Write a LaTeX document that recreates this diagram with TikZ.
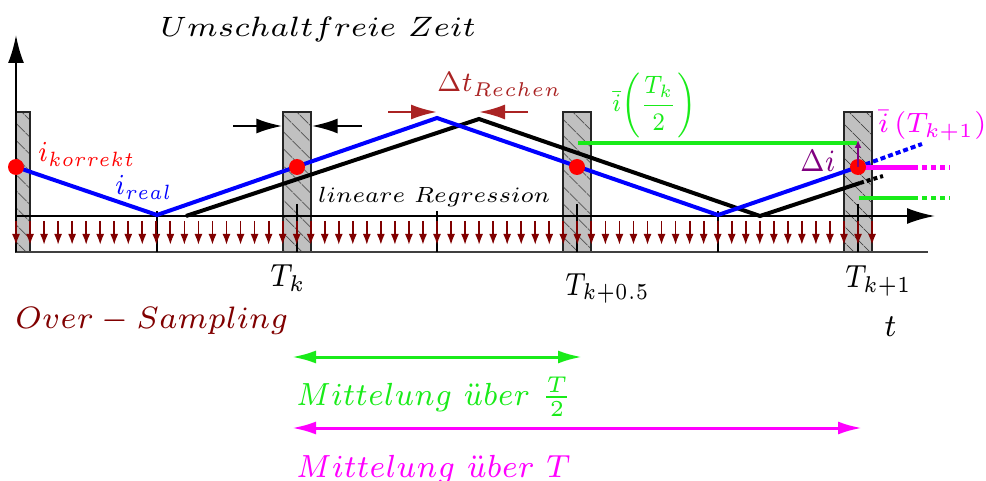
\documentclass[tikz,border=0pt]{standalone}
\usetikzlibrary{arrows.meta,patterns.meta}
\definecolor{dred}{RGB}{128,0,0}
\definecolor{bred}{RGB}{170,35,35}
\definecolor{mygreen}{RGB}{25,235,25}
\definecolor{mymag}{RGB}{255,0,255}
\definecolor{mypurple}{RGB}{128,0,128}
\definecolor{boxgray}{RGB}{192,192,192}
\definecolor{mybl}{RGB}{0,0,255}
% small design size, scaled up: #1 horizontal, #2 vertical scale
\newcommand\smt[3]{\scalebox{#1}[#2]{\fontsize{7}{8}\selectfont$#3$}}
\tikzset{
  lbl/.style={inner sep=0pt, anchor=base west},
  hbox/.style={draw=black!85, line width=1.3pt, inner sep=0pt, minimum height=140pt,
    preaction={fill=boxgray}, pattern={Lines[angle=-45,distance=13pt,line width=0.9pt]}, pattern color=black!70},
  axisln/.style={line width=2.4pt, -{Latex[length=28pt,width=16pt]}},
  osarrow/.style={dred, line width=1.8pt, -{Latex[length=11pt,width=8pt]}},
  wave/.style={line width=4pt, line join=miter},
  dotln/.style={line width=4pt, dash pattern=on 5pt off 3pt},
  dotdash/.style={line width=4.5pt, dash pattern=on 5pt off 4pt},
  rdot/.style={circle, fill=red, minimum size=16pt, inner sep=0pt},
  harrow/.style={line width=2.4pt, -{Latex[length=26pt,width=15pt]}},
  darrow/.style={line width=3pt, {Latex[length=24pt,width=13pt]}-{Latex[length=24pt,width=13pt]}},
  tick/.style={line width=1.5pt}
}
\begin{document}
\begin{tikzpicture}[x=1pt,y=-1pt]
\useasboundingbox (0,0) rectangle (986,481);
% hatched boxes
\node[hbox, minimum width=14pt] (b1) at (23,182) {};
\node[hbox, minimum width=28pt] (b2) at (297,182) {};
\node[hbox, minimum width=28pt] (b3) at (577,182) {};
\node[hbox, minimum width=28pt] (b4) at (858,182) {};
% bottom line and ticks
\coordinate (bl0) at (16,252); \coordinate (bl1) at (928,252);
\draw[black!75, line width=2pt] (bl0) -- (bl1);
\foreach \x in {157,437,718} \draw[tick] (\x,211) -- (\x,252);
\foreach \x in {297,577,858} \draw[tick] (\x,204) -- (\x,252);
% axes
\coordinate (ya) at (16,252); \coordinate (yt) at (16,35);
\coordinate (xa) at (16,216); \coordinate (xt) at (935,216);
\draw[axisln] (ya) -- (yt);
\draw[axisln] (xa) -- (xt);
% oversampling arrows
\foreach \i in {0,...,61} \draw[osarrow] ({16+\i*14.0333},221) -- ++(0,24);
% black (delayed) wave
\coordinate (k0) at (186,216); \coordinate (k1) at (479,119);
\coordinate (k2) at (760,216); \coordinate (k3) at (860,183); \coordinate (k4) at (883,176);
\draw[wave, black] (k0) -- (k1) -- (k2) -- (k3);
\draw[line width=4pt, dash pattern=on 4pt off 3pt, black] (k3) -- (k4);
% blue wave
\coordinate (p0) at (16,167); \coordinate (p1) at (157,215); \coordinate (p2) at (437,118);
\coordinate (p3) at (718,215); \coordinate (p4) at (858,167); \coordinate (p5) at (922,144);
\draw[wave, mybl] (p0) -- (p1) -- (p2) -- (p3) -- (p4);
\draw[dotln, mybl] (p4) -- (p5);
% green mean lines
\coordinate (g0) at (578,143); \coordinate (g1) at (857,143);
\draw[mygreen, line width=4pt] (g0) -- (g1);
\coordinate (g2) at (859,198); \coordinate (g3) at (913,198); \coordinate (g4) at (950,198);
\draw[mygreen, line width=4pt] (g2) -- (g3);
\draw[mygreen, dotdash, line width=4pt] (g3) -- (g4);
% magenta
\coordinate (m0) at (858,168); \coordinate (m1) at (913,168); \coordinate (m2) at (950,168);
\draw[mymag, line width=5pt] (m0) -- (m1);
\draw[mymag, dotdash, line width=5pt] (m1) -- (m2);
% red dots
\node[rdot] (d1) at (16,167) {};
\node[rdot] (d2) at (297,167) {};
\node[rdot] (d3) at (577,167) {};
\node[rdot] (d4) at (858,167) {};
% delta i arrow
\coordinate (di) at (858,140);
\draw[mypurple, line width=1.6pt, -{Latex[length=8pt,width=7pt]}] (d4.center) -- (di);
% black arrows at box 2
\coordinate (a1) at (233,126); \coordinate (a2) at (362,126);
\draw[harrow] (a1) -- (b2.west |- a1);
\draw[harrow] (a2) -- (b2.east |- a2);
% delta t arrows
\coordinate (t1) at (388,112); \coordinate (t2) at (528,112);
\draw[harrow, bred] (t1) -- (p2 |- t1);
\draw[harrow, bred] (t2) -- (k1 |- t2);
% labels
\node[lbl] (uz) at (160,37) {\smt{4.35}{4.0}{Umschaltfreie\ Zeit}};
\node[lbl, bred] (dt) at (437,92) {\smt{3.7}{4.0}{\Delta t_{Rechen}}};
\node[lbl, red] (ik) at (38,162) {\smt{3.5}{4.14}{i_{korrekt}}};
\node[lbl, mybl] (ir) at (115,195) {\smt{3.5}{4.14}{i_{real}}};
\node[lbl] (lr) at (318,203) {\smt{3.32}{3.14}{lineare\ Regression}};
\node[lbl, mygreen] (ib) at (612,112) {\smt{3.2}{3.6}{\bar{i}\Bigl(\displaystyle\frac{T_k}{2}\Bigr)}};
\node[lbl, mymag] (ib1) at (878,133) {\smt{3.85}{4.0}{\bar{i}\left(T_{k+1}\right)}};
\node[lbl, mypurple] (dil) at (800,172) {\smt{3.74}{4.43}{\Delta i}};
\node[lbl] (tk) at (270,287) {\smt{3.97}{4.57}{T_k}};
\node[lbl] (tk5) at (565,295) {\smt{3.64}{4.57}{T_{k+0.5}}};
\node[lbl] (tk1) at (845,288) {\smt{3.78}{4.57}{T_{k+1}}};
\node[lbl] (tt) at (884,337) {\smt{4.2}{4.57}{t}};
\node[lbl, dred] (os) at (15,328) {\smt{4.3}{4.43}{Over-Sampling}};
% averaging arrows
\coordinate (ga) at (292,357); \coordinate (gb) at (582,357);
\draw[darrow, mygreen] (ga) -- (gb);
\coordinate (ma) at (292,428); \coordinate (mb) at (862,428);
\draw[darrow, mymag] (ma) -- (mb);
\node[lbl, mygreen] (mt2) at (296,405) {\smt{4.17}{4.57}{Mittelung\ \ddot{u}ber\ \frac{T}{2}}};
\node[lbl, mymag] (mt) at (296,477) {\smt{4.25}{4.57}{Mittelung\ \ddot{u}ber\ T}};
\end{tikzpicture}
\end{document}
